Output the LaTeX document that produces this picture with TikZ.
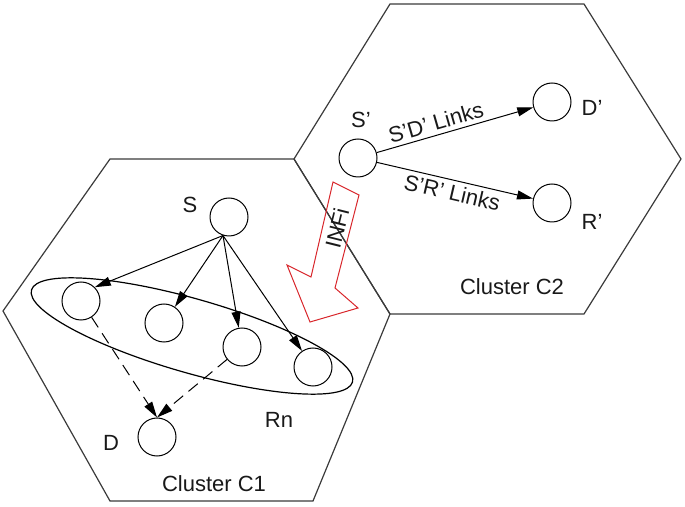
\documentclass[tikz,border=0pt]{standalone}
\usepackage{fontspec}
\setmainfont{Liberation Sans}
\usetikzlibrary{arrows.meta}
\definecolor{cellgray}{HTML}{3A3A3A}
\definecolor{infired}{HTML}{D8262B}

\begin{document}
\begin{tikzpicture}[
    x=0.5pt, y=-0.5pt,
    every node/.style={font=\fontsize{11}{13}\selectfont, text=black!90},
    cell/.style={draw=cellgray, line width=0.6pt},
    station/.style={circle, draw=black, line width=0.5pt, minimum size=19pt, inner sep=0pt},
    link/.style={-{Triangle[length=8pt, width=4.5pt]}, line width=0.5pt},
    relaylink/.style={link, dash pattern=on 6pt off 3.5pt},
    linklabel/.style={sloped, inner sep=2pt},
    infi/.style={draw=infired, line width=0.5pt},
]
\useasboundingbox (0,0) rectangle (685,507);
% two clusters
\draw[cell] (390,4) -- (584,4) -- (681,159) -- (584,314) -- (390,314) -- (294,159) -- cycle;
\draw[cell] (110,159) -- (294,159) -- (390,314) -- (313,501) -- (110,501) -- (3,311) -- cycle;
\node (clusterA) at (214,484) {Cluster C1};
\node (clusterB) at (512,287) {Cluster C2};
% cluster C1
\node[station] (S) at (229,217) {}; \node (lblS) at (190,205) {S};
\node[station] (R1) at (81,301) {};
\node[station] (R2) at (164,323) {};
\node[station] (R3) at (242,347) {};
\node[station] (R4) at (313,367) {};
\node[station] (D) at (157,437) {}; \node (lblD) at (111,443) {D};
\draw[line width=0.6pt, rotate around={-16:(192,336)}] (192,336) ellipse [x radius=167, y radius=37];
\node (lblRn) at (279,420) {Rn};
\draw[link] (S.252) -- (R1.north east);
\draw[link] (S.252) -- (R2);
\draw[link] (S.252) -- (R3);
\draw[link] (S.252) -- (R4);
\draw[relaylink] (R1) -- (D.north);
\draw[relaylink] (R3) -- (D.north);
% cluster C2
\node[station] (Sp) at (358,158) {}; \node (lblSp) at (361,120) {S'};
\node[station] (Dp) at (552,102) {}; \node (lblDp) at (592,108) {D'};
\node[station] (Rp) at (552,203) {}; \node (lblRp) at (592,222) {R'};
\draw[link] (Sp) -- node[linklabel, above, pos=0.4] {S'D' Links} (Dp);
\draw[link] (Sp) -- node[linklabel, below, pos=0.5] {S'R' Links} (Rp);
% interference arrow
\draw[infi] (333,182) -- (359,195) -- (335,288) -- (358,308) -- (310,322) -- (287,265) -- (311,277) -- cycle;
\node[rotate=76] (infiText) at (337,228) {INFi};
\end{tikzpicture}
\end{document}
